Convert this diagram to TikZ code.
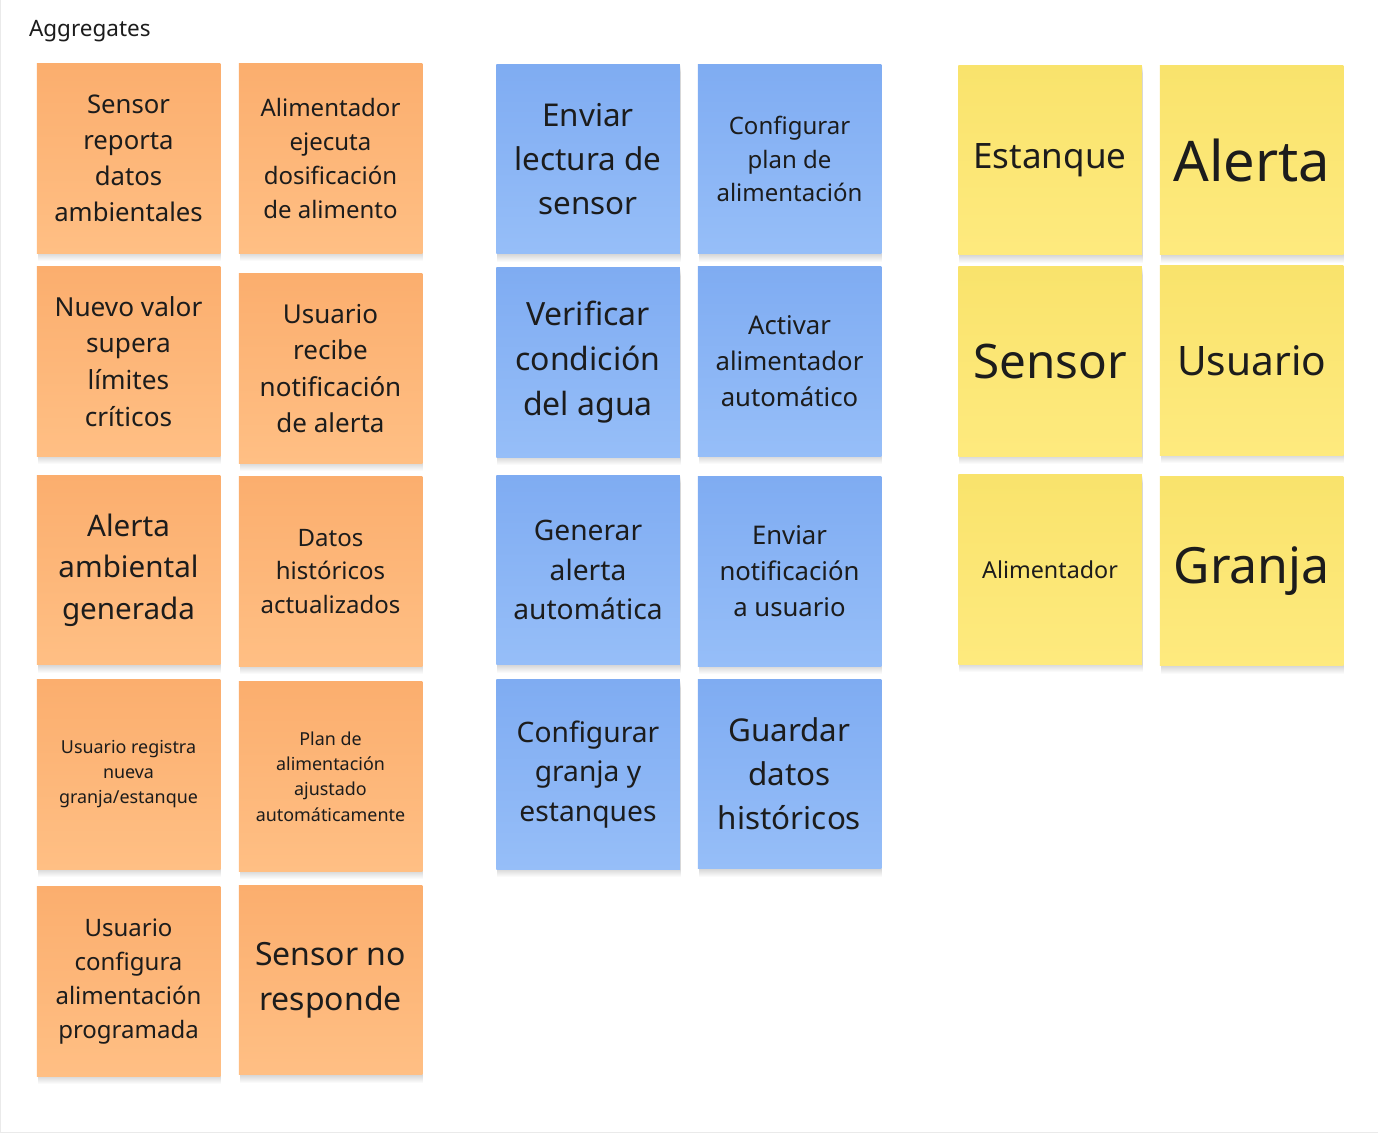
\documentclass[tikz,border=0pt]{standalone}
\usepackage{fontspec}
\setmainfont{Noto Sans}
\definecolor{eventtop}{HTML}{FBAE6E}
\definecolor{eventbot}{HTML}{FFBF84}
\definecolor{cmdtop}{HTML}{7FACF2}
\definecolor{cmdbot}{HTML}{96BEF8}
\definecolor{aggtop}{HTML}{F9E36C}
\definecolor{aggbot}{HTML}{FEEA7E}
\definecolor{ink}{HTML}{1C1C1C}
\definecolor{framegray}{HTML}{EAEAEA}
\begin{document}
\begin{tikzpicture}[x=1pt,y=-1pt,
  shade layer/.style={preaction={fill=black,fill opacity=0.02,transform canvas={xshift=1pt,yshift=-#1}}},
  note/.style={rectangle,minimum width=183.5pt,minimum height=189.5pt,inner sep=0pt,
    align=center,text=ink,
    shade layer=1pt,shade layer=2pt,shade layer=3pt,shade layer=4pt,shade layer=5pt,
    shade layer=6pt,shade layer=7pt,shade layer=8pt},
  event/.style={note,top color=eventtop,bottom color=eventbot},
  command/.style={note,top color=cmdtop,bottom color=cmdbot},
  aggregate/.style={note,top color=aggtop,bottom color=aggbot},
  fs/.style 2 args={font=\fontsize{#1}{#2}\selectfont}]
\useasboundingbox (0,0) rectangle (1378,1133);
\fill[white] (0,0) rectangle (1378,1133);
\draw[framegray,line width=1.2pt] (0.6,0) -- (0.6,1132.4) -- (1378,1132.4);

\node (title) [anchor=base west,text=ink,fs={22.5}{30}] at (25.5,36.5) {Aggregates};

\node (ev1) [event,fs={25.7}{36}] at (128.5,158.5) {Sensor\\reporta\\datos\\ambientales};
\node (ev2) [event,fs={24}{33.7}] at (330.5,158.5) {Alimentador\\ejecuta\\dosificación\\de alimento};
\node (ev3) [event,fs={26.2}{36.7}] at (128.5,361.5) {Nuevo valor\\supera\\límites\\críticos};
\node (ev4) [event,fs={26}{36.3}] at (330.5,368.5) {Usuario\\recibe\\notificación\\de alerta};
\node (ev5) [event,fs={29.6}{41.5}] at (128.5,570) {Alerta\\ambiental\\generada};
\node (ev6) [event,fs={24}{33.5}] at (330.5,571.5) {Datos\\históricos\\actualizados};
\node (ev7) [event,fs={17.9}{25}] at (128.5,774.5) {Usuario registra\\nueva\\granja/estanque};
\node (ev8) [event,fs={17.9}{25.2}] at (330.5,776.5) {Plan de\\alimentación\\ajustado\\automáticamente};
\node (ev9) [event,fs={24}{33.7}] at (128.5,981.5) {Usuario\\configura\\alimentación\\programada};
\node (ev10) [event,fs={32}{45}] at (330.5,980) {Sensor no\\responde};

\node (cmd1) [command,fs={31.4}{44}] at (588,159) {Enviar\\lectura de\\sensor};
\node (cmd2) [command,fs={24}{33.5}] at (789.5,159) {Configurar\\plan de\\alimentación};
\node (cmd3) [command,fs={32}{45}] at (588,362.5) {Verificar\\condición\\del agua};
\node (cmd4) [command,fs={25.7}{36}] at (789.5,361.5) {Activar\\alimentador\\automático};
\node (cmd5) [command,fs={28.2}{39.5}] at (588,570) {Generar\\alerta\\automática};
\node (cmd6) [command,fs={25.7}{36}] at (789.5,571.5) {Enviar\\notificación\\a usuario};
\node (cmd7) [command,fs={28.2}{39.5}] at (588,774.5) {Configurar\\granja y\\estanques};
\node (cmd8) [command,fs={31.4}{44}] at (789.5,774) {Guardar\\datos\\históricos};

\node (agg1) [aggregate,fs={35}{49}] at (1050,160) {Estanque};
\node (agg2) [aggregate,fs={56}{78}] at (1251.7,160) {Alerta};
\node (agg3) [aggregate,fs={47.6}{66}] at (1050,361.5) {Sensor};
\node (agg4) [aggregate,fs={40.6}{57}] at (1251.7,360.5) {Usuario};
\node (agg5) [aggregate,fs={23.3}{33}] at (1050,569.5) {Alimentador};
\node (agg6) [aggregate,fs={50}{70}] at (1251.7,571) {Granja};
\end{tikzpicture}
\end{document}
